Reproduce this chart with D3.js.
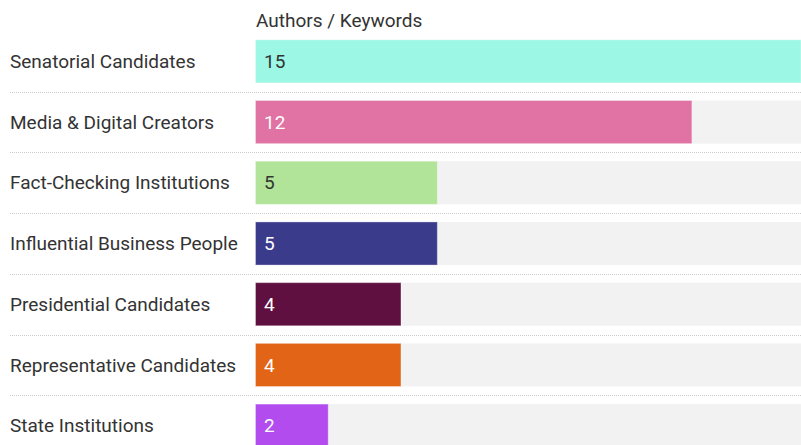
<!DOCTYPE html>
<html><head><meta charset="utf-8">
<script src="https://cdn.jsdelivr.net/npm/d3@7"></script>
<style>body{margin:0;background:#fff;}svg{display:block;font-family:Roboto,sans-serif;}</style>
</head><body>
<svg id="c" width="801" height="445"></svg>
<script>
const categories = ["Senatorial Candidates","Media & Digital Creators","Fact-Checking Institutions","Influential Business People","Presidential Candidates","Representative Candidates","State Institutions"];
const values = [15,12,5,5,4,4,2];
const colors = ["#9df7e5","#e073a3","#b1e399","#3b3b8b","#5f0f40","#e26416","#b24cee"];
const labelColors = ["#333","#fff","#333","#fff","#fff","#fff","#fff"];
const title = "Authors / Keywords";

const svg = d3.select("#c");
const x0 = 255.5, x1 = 801;
const x = d3.scaleLinear().domain([0, 15]).range([x0, x1]);
const y = d3.scaleBand().domain(categories).range([31, 456]).paddingInner(0.29).paddingOuter(0.145);

svg.append("text").attr("x", 256).attr("y", 27).attr("font-size", 19).attr("fill", "#333").text(title);

const rows = svg.selectAll("g.row").data(categories).join("g").attr("class","row");
rows.append("rect").attr("x", x0).attr("y", d => y(d)).attr("width", x1 - x0).attr("height", y.bandwidth()).attr("fill", "#f2f2f2");
rows.append("rect").attr("x", x0).attr("y", d => y(d)).attr("width", (d,i) => x(values[i]) - x0).attr("height", y.bandwidth())
  .attr("fill", (d,i) => colors[i]).attr("stroke","rgba(255,255,255,0.35)").attr("stroke-width",1);
rows.append("text").attr("x", 10).attr("y", d => y(d) + y.bandwidth()/2).attr("dy","0.35em").attr("font-size",19).attr("fill","#333").text(d => d);
rows.append("text").attr("x", 264).attr("y", d => y(d) + y.bandwidth()/2).attr("dy","0.35em").attr("font-size",19).attr("fill",(d,i)=>labelColors[i]).text((d,i)=>values[i]);

const seps = categories.slice(0, -1);
svg.selectAll("line.sep").data(seps).join("line").attr("class","sep")
  .attr("x1", 10).attr("x2", 801)
  .attr("y1", d => Math.round(y(d) + y.bandwidth() + y.step()*y.paddingInner()/2) + 0.5)
  .attr("y2", d => Math.round(y(d) + y.bandwidth() + y.step()*y.paddingInner()/2) + 0.5)
  .attr("stroke", "#ccc").attr("stroke-dasharray", "1,1");
</script>
</body></html>
